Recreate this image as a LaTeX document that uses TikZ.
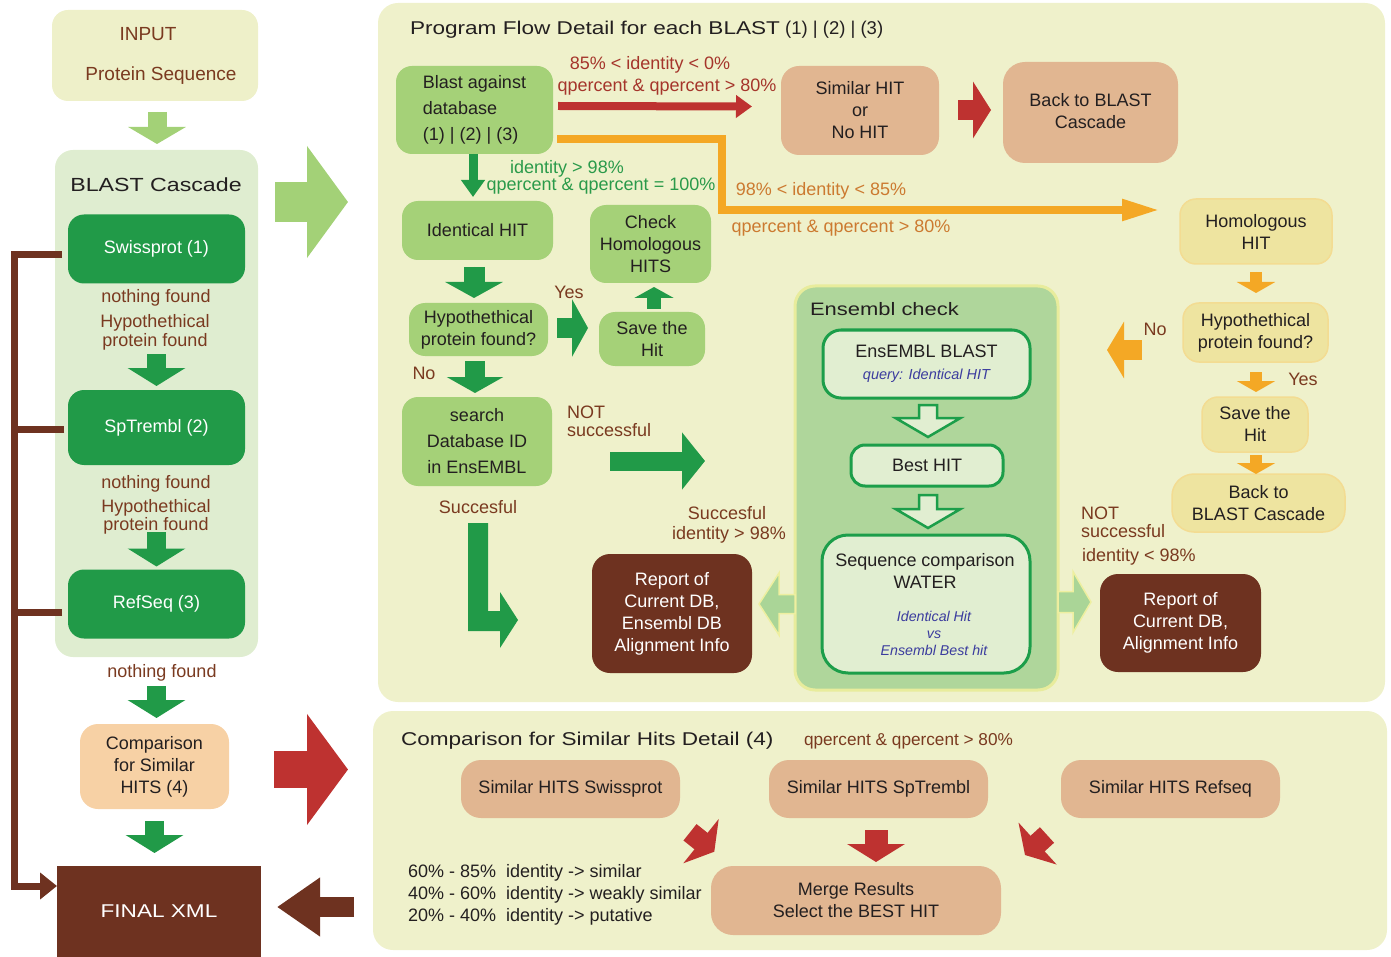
\documentclass[tikz,border=0pt]{standalone}
\usepackage{fontspec}
\setmainfont{Liberation Sans}
\newfontfamily\widefont[FakeStretch=1.22]{Liberation Sans}
\usetikzlibrary{arrows.meta}
\definecolor{panel}{HTML}{EFF1CB}
\definecolor{inputc}{HTML}{EEF0C9}
\definecolor{cascc}{HTML}{DFEDD0}
\definecolor{dg}{HTML}{219A48}
\definecolor{lg}{HTML}{A5D178}
\definecolor{lgarr}{HTML}{A3D177}
\definecolor{brtext}{HTML}{7A3A20}
\definecolor{redc}{HTML}{BE3230}
\definecolor{tanc}{HTML}{E1B691}
\definecolor{peach}{HTML}{F7D1A5}
\definecolor{dbrown}{HTML}{6E3220}
\definecolor{orng}{HTML}{F4A825}
\definecolor{orngtext}{HTML}{CC7A30}
\definecolor{pyel}{HTML}{EEE4A0}
\definecolor{pyelb}{HTML}{F3DC92}
\definecolor{ensc}{HTML}{AFD69B}
\definecolor{ensb}{HTML}{E8EC9C}
\definecolor{innerc}{HTML}{E1EED1}
\definecolor{innerb}{HTML}{1C9E4A}
\definecolor{bluet}{HTML}{3B3C9E}
\definecolor{redtext}{HTML}{A5352B}
\definecolor{gtext}{HTML}{2A9A4A}
\definecolor{ink}{HTML}{231F20}
\definecolor{lgarrtwo}{HTML}{AAD597}
\definecolor{lgarrb}{HTML}{EEEFA0}
\tikzset{
  every node/.style={inner sep=0pt, outer sep=0pt, text=ink, align=center, font=\fontsize{18}{22}\selectfont},
  lgbox/.style={fill=lg, rounded corners=16pt},
  dgbox/.style={fill=dg, rounded corners=16pt, text=white},
  tanbox/.style={fill=tanc, rounded corners=18pt},
  ybox/.style={fill=pyel, draw=pyelb, line width=1.5pt, rounded corners=16pt},
  dbbox/.style={fill=dbrown, rounded corners=18pt, text=white},
  ibox/.style={fill=innerc, draw=innerb, line width=3pt, rounded corners=18pt},
  lab/.style={text=brtext},
  redlab/.style={text=redtext},
  glab/.style={text=gtext},
  olab/.style={text=orngtext},
  bline/.style={draw=dbrown, line width=7pt},
  barrow/.style n args={3}{line width=#1, -{Triangle[length=#3,width=#2]}},
  pics/harrow/.style args={#1/#2/#3/#4}{code={%
    \path[pic actions] (0,-#2/2) -- (#1-#4,-#2/2) -- (#1-#4,-#3/2) -- (#1,0) -- (#1-#4,#3/2) -- (#1-#4,#2/2) -- (0,#2/2) -- cycle;}}
}
\begin{document}
\begin{tikzpicture}[x=1pt,y=-1pt]
\useasboundingbox (0,0) rectangle (1391,957);
% ---------- panels
\node[fill=panel, rounded corners=20pt, minimum width=1007pt, minimum height=699pt] (upper) at (881.5,352.5) {};
\node[fill=panel, rounded corners=20pt, minimum width=1014pt, minimum height=239pt] (lower) at (880,830.5) {};
\node[fill=inputc, rounded corners=16pt, minimum width=206pt, minimum height=91pt, text=brtext, font=\fontsize{19}{22}\selectfont] (input) at (155,55.5) {INPUT\rule{14pt}{0pt}\\[18pt]\rule{12pt}{0pt}Protein Sequence};
\node[fill=cascc, rounded corners=18pt, minimum width=203pt, minimum height=507pt] (casc) at (156.5,403.5) {};
\node[font=\fontsize{19}{22}\widefont] (casct) at (156,185) {BLAST Cascade};
% ---------- left column
\node[dgbox, minimum width=177pt, minimum height=69pt] (swiss) at (156.5,249) {Swissprot (1)};
\node[lab] (l1a) at (156,298) {nothing found};
\node[lab, font=\fontsize{18}{19}\selectfont] (l1b) at (155,332) {Hypothethical\\protein found};
\node[dgbox, minimum width=177pt, minimum height=75pt] (sptr) at (156.5,427.5) {SpTrembl (2)};
\node[lab] (l2a) at (156,484) {nothing found};
\node[lab, font=\fontsize{18}{17.5}\selectfont] (l2b) at (156,517) {Hypothethical\\protein found};
\node[dgbox, minimum width=177pt, minimum height=69pt] (refseq) at (156.5,604) {RefSeq (3)};
\node[lab] (l3a) at (162,673) {nothing found};
\node[fill=peach, rounded corners=18pt, minimum width=149pt, minimum height=85pt] (comp) at (154.5,766.5) {Comparison\\for Similar\\HITS (4)};
\node[fill=dbrown, minimum width=204pt, minimum height=91pt, text=white, font=\fontsize{18.5}{22}\widefont] (final) at (159,911.5) {FINAL XML};
% left column arrows
\draw[barrow={19pt}{57pt}{17pt}, draw=lgarr, fill=lgarr, shorten <=11pt, shorten >=6pt] ([xshift=2pt]input.south) -- ([xshift=0.5pt]casc.north);
\draw[barrow={19pt}{57pt}{18pt}, draw=dg, fill=dg, shorten <=70.5pt, shorten >=4pt] (swiss.south) -- (sptr.north);
\draw[barrow={19pt}{57pt}{18pt}, draw=dg, fill=dg, shorten <=67pt, shorten >=3pt] (sptr.south) -- (refseq.north);
\draw[barrow={19pt}{57pt}{18pt}, draw=dg, fill=dg, shorten <=47.5pt, shorten >=6pt] (refseq.south) -- ([xshift=2pt]comp.north);
\draw[barrow={19pt}{57pt}{18pt}, draw=dg, fill=dg, shorten <=12pt, shorten >=13pt] (comp.south) -- ([xshift=-4.5pt]final.north);
% brown bracket
\draw[bline, -{Triangle[length=17pt,width=26pt]}] ([xshift=-6pt,yshift=-6pt]swiss.west) -| ([xshift=-43pt,yshift=25.5pt]final.west) -- ([yshift=25.5pt]final.west);
\draw[bline] ([xshift=-4pt,yshift=-1.5pt]sptr.west) -- ([xshift=-54pt,yshift=-1.5pt]sptr.west);
\draw[bline] ([xshift=-6pt,yshift=-8pt]refseq.west) -- ([xshift=-54pt,yshift=-8pt]refseq.west);
% big arrows between columns
\coordinate (b1s) at (275,202); \coordinate (b1e) at (348,202);
\coordinate (b2s) at (274,769.5); \coordinate (b2e) at (348,769.5);
\coordinate (b3s) at (354,907); \coordinate (b3e) at (277,907);
\draw[barrow={40pt}{110pt}{41pt}, draw=lgarr, fill=lgarr] (b1s) -- (b1e);
\draw[barrow={37pt}{109pt}{41pt}, draw=redc, fill=redc] (b2s) -- (b2e);
\draw[barrow={20pt}{56pt}{43pt}, draw=dbrown, fill=dbrown] (b3s) -- (b3e);
% ---------- upper panel
\node[anchor=west, font=\fontsize{18.5}{22}\selectfont] (ptitle) at (410,29.5) {{\widefont Program Flow Detail for each BLAST} (1) | (2) | (3)};
\node[lgbox, minimum width=157pt, minimum height=88pt, align=left, font=\fontsize{18}{26}\selectfont] (blast) at (474.5,110) {Blast against\\database\\(1) | (2) | (3)};
\node[tanbox, minimum width=158pt, minimum height=89pt] (similar) at (860,110.5) {Similar HIT\\or\\No HIT};
\node[tanbox, rounded corners=22pt, minimum width=175pt, minimum height=101pt, text depth=3pt] (back1) at (1090.5,112.5) {Back to BLAST\\Cascade};
\node[ybox, minimum width=152pt, minimum height=65pt] (homol) at (1256,231.5) {Homologous\\HIT};
\node[ybox, minimum width=145pt, minimum height=59pt] (hypo2) at (1255.5,332.5) {Hypothethical\\protein found?};
\node[ybox, minimum width=106pt, minimum height=55pt] (save2) at (1255,424.5) {Save the\\Hit};
\node[ybox, rounded corners=22pt, minimum width=173pt, minimum height=58pt] (back2) at (1258.5,503) {Back to\\BLAST Cascade};
\node[lgbox, minimum width=151pt, minimum height=59pt] (ident) at (477.5,230.5) {Identical HIT};
\node[lgbox, minimum width=139pt, minimum height=53pt] (hypo1) at (478.5,329.5) {Hypothethical\\protein found?};
\node[lgbox, minimum width=106pt, minimum height=54pt] (save1) at (652,339) {Save the\\Hit};
\node[lgbox, minimum width=121pt, minimum height=78pt] (check) at (650.5,244) {Check\\Homologous\\HITS};
\node[lgbox, minimum width=150pt, minimum height=89pt, font=\fontsize{18}{26}\selectfont] (search) at (477,441.5) {search\\Database ID\\in EnsEMBL};
\node[dbbox, minimum width=160pt, minimum height=119pt] (report1) at (672,613.5) {Report of\\Current DB,\\Ensembl DB\\Alignment Info};
\node[fill=ensc, draw=ensb, line width=3pt, rounded corners=20pt, minimum width=263pt, minimum height=404pt] (ens) at (926.5,488) {};
\node[anchor=west, font=\fontsize{18}{22}\widefont] (enst) at (810,309) {Ensembl check};
\node[ibox, minimum width=207pt, minimum height=68pt] (eblast) at (926.5,364) {EnsEMBL BLAST\\{\fontsize{14.5}{16}\selectfont\itshape\color{bluet}query: Identical HIT}};
\node[ibox, rounded corners=14pt, minimum width=152pt, minimum height=41pt] (best) at (927,465.5) {Best HIT};
\node[ibox, rounded corners=26pt, minimum width=208pt, minimum height=138pt] (seq) at (926,604) {};
\node (seqa) at (925,571) {Sequence comparison\\WATER};
\node[text=bluet, font=\fontsize{14.2}{17}\selectfont\itshape] (seqb) at (934,633) {Identical Hit\\vs\\Ensembl Best hit};
\node[dbbox, minimum width=161pt, minimum height=98pt] (report2) at (1180.5,623) {Report of\\Current DB,\\Alignment Info};
% labels
\node[redlab] (t1) at (650,65) {85\% < identity < 0\%};
\node[redlab] (t2) at (667,87) {qpercent \& qpercent > 80\%};
\node[glab] (t3) at (567,169) {identity > 98\%};
\node[glab] (t4) at (601,186) {qpercent \& qpercent = 100\%};
\node[olab] (t5) at (821,191) {98\% < identity < 85\%};
\node[olab] (t6) at (841,228) {qpercent \& qpercent > 80\%};
\node[lab] (t7) at (569,292) {Yes};
\node[lab] (t8) at (424,373) {No};
\node[lab, anchor=west, align=left, font=\fontsize{18}{18}\selectfont] (t9) at (567,421) {NOT\\successful};
\node[lab] (t10) at (478,507) {Succesful};
\node[lab] (t11) at (727,513) {Succesful};
\node[lab] (t12) at (729,535) {identity > 98\%};
\node[lab] (t13) at (1155,329) {No};
\node[lab] (t14) at (1303,379) {Yes};
\node[lab, anchor=west, align=left, font=\fontsize{18}{18}\selectfont] (t15) at (1081,522) {NOT\\successful};
\node[lab, anchor=west] (t16) at (1082,557) {identity < 98\%};
% connectors upper
\coordinate (obend) at (722,210);
\draw[draw=redc, line width=8pt, -{Triangle[length=16pt,width=22pt]}] ([xshift=5pt,yshift=4pt]blast.east) -- ([xshift=-29pt,yshift=4pt]similar.west);
\draw[draw=orng, line width=8pt, line join=miter, -{Triangle[length=38pt,width=20pt]}] ([xshift=4pt,yshift=-29pt]blast.east) -| (obend) -- ([xshift=-20pt,yshift=21.5pt]homol.west);
\draw[draw=dg, fill=dg, line width=9pt, -{Triangle[length=17pt,width=23pt]}, shorten >=4pt] ([xshift=-1.5pt]blast.south) -- ([xshift=-4.5pt]ident.north);
\draw[barrow={20pt}{56pt}{18pt}, draw=redc, fill=redc, shorten <=19pt, shorten >=12pt] ([yshift=0.5pt]similar.east) -- ([yshift=2.5pt]back1.west);
\draw[barrow={21pt}{57pt}{16pt}, draw=dg, fill=dg, shorten <=7pt, shorten >=5pt] ([xshift=-3.5pt]ident.south) -- ([xshift=-4.5pt]hypo1.north);
\draw[barrow={20pt}{57pt}{16pt}, draw=dg, fill=dg, shorten <=9pt, shorten >=11pt] ([yshift=1.5pt]hypo1.east) -- ([yshift=11pt]save1.west);
\draw[barrow={14pt}{39pt}{11pt}, draw=dg, fill=dg, shorten <=3pt, shorten >=4pt] ([xshift=2pt]save1.north) -- ([xshift=3.5pt]check.south);
\draw[barrow={20pt}{56pt}{16pt}, draw=dg, fill=dg, shorten <=5pt, shorten >=4pt] ([xshift=-3.5pt]hypo1.south) -- ([xshift=-2pt]search.north);
% bent arrow below "Succesful"
\fill[dg] ([xshift=-9pt,yshift=-37pt]search.south) -- ([xshift=11pt,yshift=-37pt]search.south)
  -- ([xshift=11pt,yshift=-125pt]search.south) -- ([xshift=23pt,yshift=-125pt]search.south)
  -- ([xshift=23pt,yshift=-106pt]search.south) -- ([xshift=41pt,yshift=-134pt]search.south)
  -- ([xshift=23pt,yshift=-162pt]search.south) -- ([xshift=23pt,yshift=-145pt]search.south)
  -- ([xshift=-9pt,yshift=-145pt]search.south) -- cycle;
\draw[barrow={19pt}{56pt}{23pt}, draw=dg, fill=dg] ([xshift=58pt,yshift=-19.5pt]search.east) -- ([xshift=-90pt,yshift=27pt]ens.west);
\pic[fill=lgarrtwo, draw=lgarrb, line width=1.5pt, rotate=180] at (795,604) {harrow=36/19/62/20};
\pic[fill=lgarrtwo, draw=lgarrb, line width=1.5pt] at (1058,602) {harrow=33/21/61/18};
\pic[fill=innerc, draw=innerb, line width=2.5pt, rotate=-90] at (928,405) {harrow=32/18/65/19};
\pic[fill=innerc, draw=innerb, line width=2.5pt, rotate=-90] at (928,495) {harrow=33/18/65/19};
\draw[barrow={12pt}{38pt}{11pt}, draw=orng, fill=orng, shorten <=8pt, shorten >=10pt] (homol.south) -- ([xshift=0.5pt]hypo2.north);
\draw[barrow={12pt}{38pt}{11pt}, draw=orng, fill=orng, shorten <=10pt, shorten >=5pt] ([xshift=0.5pt]hypo2.south) -- ([xshift=1pt]save2.north);
\draw[barrow={12pt}{38pt}{11pt}, draw=orng, fill=orng, shorten <=3pt] ([xshift=1pt]save2.south) -- ([xshift=-2.5pt]back2.north);
\coordinate (d4e) at (1107,350);
\draw[barrow={20pt}{56pt}{17pt}, draw=orng, fill=orng, shorten <=41pt] ([yshift=-17.5pt]hypo2.west) -- (d4e);
% ---------- lower panel
\node[anchor=west, font=\fontsize{18.5}{22}\widefont] (ltitle) at (401,741) {Comparison for Similar Hits Detail (4)};
\node[lab, anchor=west, font=\fontsize{17.2}{22}\selectfont] (lq) at (804,741) {qpercent \& qpercent > 80\%};
\node[tanbox, rounded corners=20pt, minimum width=219pt, minimum height=58pt] (sw) at (570.5,789) {Similar HITS Swissprot};
\node[tanbox, rounded corners=20pt, minimum width=219pt, minimum height=58pt] (st) at (878.5,789) {Similar HITS SpTrembl};
\node[tanbox, rounded corners=20pt, minimum width=219pt, minimum height=58pt] (rs) at (1170.5,789) {Similar HITS Refseq};
\node[tanbox, rounded corners=22pt, minimum width=290pt, minimum height=69pt] (merge) at (856,900.5) {Merge Results\\Select the BEST HIT};
\node[anchor=west, align=left] (legend) at (408,895) {60\% - 85\%\ \ identity -> similar\\40\% - 60\%\ \ identity -> weakly similar\\20\% - 40\%\ \ identity -> putative};
\coordinate (e2s) at (690,832.3); \coordinate (e2e) at (714.3,851.7);
\coordinate (e3s) at (1047,835); \coordinate (e3e) at (1025,855);
\draw[barrow={23pt}{57pt}{18pt}, draw=redc, fill=redc, shorten <=12pt, shorten >=4pt] ([xshift=-2.5pt]st.south) -- ([xshift=20pt]merge.north);
\draw[barrow={21pt}{56pt}{17pt}, draw=redc, fill=redc] (e2s) -- (e2e);
\draw[barrow={21pt}{56pt}{17pt}, draw=redc, fill=redc] (e3s) -- (e3e);
\end{tikzpicture}
\end{document}
